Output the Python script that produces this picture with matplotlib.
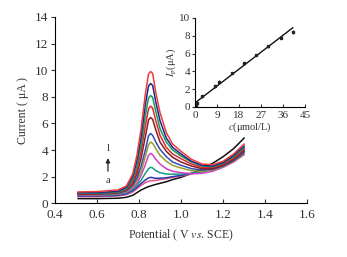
import matplotlib
matplotlib.use("Agg")
import matplotlib.pyplot as plt
import numpy as np

plt.rcParams['font.family'] = ['Liberation Serif', 'DejaVu Serif']
plt.rcParams['mathtext.fontset'] = 'stix'

# potential grid (V vs. SCE)
potential = [0.51, 0.60, 0.70, 0.74, 0.77, 0.79, 0.81, 0.83, 0.845, 0.855, 0.865,
             0.88, 0.90, 0.93, 0.96, 1.00, 1.05, 1.10, 1.15, 1.20, 1.25, 1.30]

# currents (uA), curves a..l
cur_a = [0.35, 0.35, 0.38, 0.45, 0.6, 0.8, 1.0, 1.15, 1.25, 1.3, 1.35, 1.42, 1.5, 1.62, 1.78, 1.95, 2.25, 2.6, 3.0, 3.5, 4.1, 4.9]
cur_b = [0.5, 0.5, 0.55, 0.65, 0.85, 1.1, 1.35, 1.55, 1.65, 1.7, 1.7, 1.72, 1.78, 1.85, 1.95, 2.05, 2.2, 2.4, 2.7, 3.1, 3.6, 4.2]
cur_c = [0.55, 0.55, 0.6, 0.72, 0.95, 1.2, 1.5, 1.75, 1.9, 1.95, 1.92, 1.88, 1.88, 1.92, 2.0, 2.1, 2.25, 2.45, 2.7, 3.05, 3.5, 4.0]
cur_d = [0.6, 0.6, 0.66, 0.8, 1.05, 1.35, 1.75, 2.25, 2.6, 2.7, 2.65, 2.45, 2.3, 2.2, 2.18, 2.2, 2.25, 2.35, 2.55, 2.9, 3.35, 3.9]
cur_e = [0.6, 0.62, 0.7, 0.85, 1.15, 1.5, 2.1, 2.9, 3.6, 3.75, 3.65, 3.3, 2.95, 2.6, 2.4, 2.3, 2.22, 2.25, 2.4, 2.7, 3.1, 3.65]
cur_f = [0.65, 0.65, 0.72, 0.9, 1.25, 1.7, 2.4, 3.5, 4.4, 4.6, 4.5, 4.1, 3.6, 3.15, 2.85, 2.65, 2.45, 2.4, 2.5, 2.75, 3.15, 3.7]
cur_g = [0.65, 0.67, 0.75, 0.95, 1.35, 1.9, 2.8, 4.0, 5.05, 5.25, 5.1, 4.6, 4.05, 3.5, 3.1, 2.85, 2.6, 2.5, 2.55, 2.8, 3.2, 3.8]
cur_h = [0.7, 0.7, 0.8, 1.0, 1.5, 2.2, 3.4, 5.0, 6.25, 6.45, 6.3, 5.5, 4.6, 3.9, 3.45, 3.1, 2.8, 2.6, 2.6, 2.85, 3.3, 3.95]
cur_i = [0.72, 0.72, 0.82, 1.05, 1.65, 2.5, 3.9, 5.8, 7.1, 7.3, 7.15, 6.2, 5.1, 4.2, 3.7, 3.35, 2.95, 2.7, 2.7, 2.95, 3.4, 4.1]
cur_j = [0.75, 0.75, 0.85, 1.1, 1.8, 2.8, 4.4, 6.6, 7.9, 8.1, 7.95, 6.9, 5.6, 4.6, 4.0, 3.55, 3.1, 2.8, 2.75, 3.0, 3.5, 4.2]
cur_k = [0.8, 0.8, 0.9, 1.2, 2.0, 3.2, 5.0, 7.4, 8.8, 9.0, 8.85, 7.6, 6.2, 4.9, 4.2, 3.7, 3.15, 2.85, 2.8, 3.05, 3.6, 4.3]
cur_l = [0.85, 0.88, 1.0, 1.3, 2.2, 3.6, 5.6, 8.2, 9.7, 9.9, 9.75, 8.3, 6.8, 5.3, 4.45, 3.9, 3.3, 2.95, 2.9, 3.15, 3.7, 4.45]

curves = [cur_a, cur_b, cur_c, cur_d, cur_e, cur_f, cur_g, cur_h, cur_i, cur_j, cur_k, cur_l]
colors = ['#111111', '#e8508a', '#2a3aa8', '#159a8a', '#d040c8', '#9a9a30',
          '#2f4fb0', '#8a1a2a', '#d82a2a', '#1a9a5a', '#1a2a8a', '#f03a3a']

# inset: peak current vs concentration
conc = [0.2, 0.5, 1, 3, 8, 10, 15, 20, 25, 30, 35, 40]
ip = [0.15, 0.3, 0.45, 1.2, 2.3, 2.8, 3.8, 4.9, 5.85, 6.8, 7.8, 8.4]
ip_err = [0.1, 0.1, 0.1, 0.15, 0.15, 0.2, 0.15, 0.15, 0.1, 0.15, 0.15, 0.2]
fit_x = [0, 40]
fit_y = [0.45, 8.9]

fig = plt.figure(figsize=(3.47, 2.57), dpi=100)
ax = fig.add_axes([0.1585, 0.209, 0.7265, 0.725])
for y, c in zip(curves, colors):
    ax.plot(potential, y, color=c, lw=1.1)

ax.set_xlim(0.4, 1.6)
ax.set_ylim(0, 14)
ax.set_xticks([0.4, 0.6, 0.8, 1.0, 1.2, 1.4, 1.6])
ax.set_xticklabels(['0.4', '0.6', '0.8', '1.0', '1.2', '1.4', '1.6'])
ax.set_yticks(range(0, 15, 2))
ax.spines['top'].set_visible(False)
ax.spines['right'].set_visible(False)
ax.tick_params(axis='x', direction='in', length=3, labelsize=9.5, colors='#333333', pad=4)
ax.tick_params(axis='y', direction='out', length=3, labelsize=9.5, colors='#333333', pad=2)
ax.set_xlabel('Potential ( V $\\it{vs}$. SCE)', fontsize=8.5, color='#333333', labelpad=5)
ax.set_ylabel('Current ( μA )', fontsize=8.5, color='#333333', labelpad=4)

ax.annotate('', xy=(0.652, 3.6), xytext=(0.652, 2.2),
            arrowprops=dict(arrowstyle='-|>', color='#222222', lw=0.9, mutation_scale=6))
ax.text(0.652, 4.1, 'l', fontsize=7.5, ha='center', va='center', color='#333333')
ax.text(0.652, 1.7, 'a', fontsize=7.5, ha='center', va='center', color='#333333')

ins = fig.add_axes([0.562, 0.584, 0.317, 0.346])
ins.errorbar(conc, ip, yerr=ip_err, fmt='s', ms=1.6, color='#222222', elinewidth=0.6, capsize=0)
ins.plot(fit_x, fit_y, color='#111111', lw=1.0)
ins.set_xlim(0, 45)
ins.set_ylim(0, 10)
ins.set_xticks([0, 9, 18, 27, 36, 45])
ins.set_yticks([0, 2, 4, 6, 8, 10])
ins.spines['top'].set_visible(False)
ins.spines['right'].set_visible(False)
ins.patch.set_alpha(0)
ins.tick_params(axis='x', direction='in', length=2.5, labelsize=8, colors='#333333', pad=3)
ins.tick_params(axis='y', direction='out', length=2.5, labelsize=8, colors='#333333', pad=1)
ins.set_xlabel('$\\it{c}$(μmol/L)', fontsize=7.5, color='#333333', labelpad=0)
ins.set_ylabel('$\\it{I}_\\mathrm{p}$(μA)', fontsize=7.5, color='#333333', labelpad=1)

fig.savefig('out.png', dpi=100)
